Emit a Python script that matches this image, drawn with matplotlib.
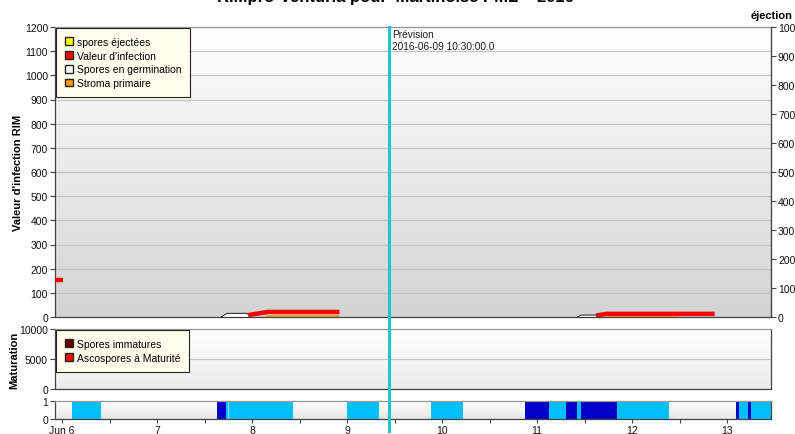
import numpy as np
import matplotlib
matplotlib.use("Agg")
import matplotlib.pyplot as plt
from matplotlib.patches import Patch
import matplotlib.transforms as mtransforms

plt.rcParams['font.family'] = ['Liberation Sans', 'DejaVu Sans']

# ---- data (x = day of June 2016) ----
xlim_days = [5.926, 13.463]
day_ticks = [6, 7, 8, 9, 10, 11, 12, 13]
day_labels = ["Jun 6", "7", "8", "9", "10", "11", "12", "13"]
half_day_ticks = [6.5, 7.5, 8.5, 9.5, 10.5, 11.5, 12.5, 13.5]
forecast_day = 9.4375
forecast_label = "Prévision\n2016-06-09 10:30:00.0"

infection_x1 = [5.926, 6.01]
infection_y1 = [155, 155]
infection_x2 = [7.96, 8.17, 8.92]
infection_y2 = [8, 21, 21]
infection_x3 = [11.62, 11.73, 12.87]
infection_y3 = [6, 13, 13]

germ_x1 = [7.67, 7.73, 7.94, 7.98]
germ_y1 = [2, 17, 17, 6]
germ_x2 = [11.42, 11.46, 11.62, 11.66]
germ_y2 = [2, 10, 10, 4]

stroma_x1 = [8.14, 8.92]
stroma_y1 = [6, 6]
stroma_x2 = [11.73, 12.47]
stroma_y2 = [3, 3]

left_ticks = list(range(0, 1201, 100))
right_ticks = list(range(0, 1001, 100))
mat_ticks = [0, 5000, 10000]

# wetness strip segments: (start, end, kind)  kind: 'L' light blue, 'D' dark blue
wet_start = [6.108, 7.63, 7.73, 9.003, 9.884, 10.877, 11.126, 11.30, 11.42, 11.46, 11.84, 13.095, 13.126, 13.22, 13.25]
wet_end   = [6.41, 7.73, 8.43, 9.34, 10.22, 11.126, 11.30, 11.42, 11.46, 11.84, 12.39, 13.126, 13.22, 13.25, 13.463]
wet_kind  = ['L', 'D', 'L', 'L', 'L', 'D', 'L', 'D', 'L', 'D', 'L', 'D', 'L', 'D', 'L']

# ---- figure ----
fig = plt.figure(figsize=(7.95, 4.35), dpi=100)
W, H = 795, 435
def pos(l, t, r, b):
    return [l / W, 1 - b / H, (r - l) / W, (b - t) / H]

ax = fig.add_axes(pos(55, 28, 771, 318))
ax2 = fig.add_axes(pos(55, 330, 771, 390))
ax3 = fig.add_axes(pos(55, 402, 771, 420))

light = '#00bfff'
dark = '#0000c8'
vcol = '#22c4d0'
spine_col = '#444444'
tick_kw = dict(labelsize=7.5, length=3.5, width=0.8, color='#444444', labelcolor='#111111', pad=1.5)

def gradient(a, top, bottom):
    grad = np.linspace(0, 1, 256).reshape(-1, 1)
    c0 = np.array(matplotlib.colors.to_rgb(top))
    c1 = np.array(matplotlib.colors.to_rgb(bottom))
    img = c0[None, None, :] * (1 - grad[:, :, None]) + c1[None, None, :] * grad[:, :, None]
    a.imshow(img, extent=[0, 1, 0, 1], transform=a.transAxes, aspect='auto', zorder=-10,
             interpolation='bicubic')

for a in (ax, ax2, ax3):
    for s in a.spines.values():
        s.set_color(spine_col)
        s.set_linewidth(0.9)
    a.spines['top'].set_color('#999999')

def style_legend(leg):
    fr = leg.get_frame()
    fr.set_facecolor('#ffffee')
    fr.set_edgecolor('#222222')
    fr.set_linewidth(0.8)
    fr.set_alpha(1)

leg_kw = dict(loc='upper left', bbox_to_anchor=(0.0, 1.0), fontsize=7.5, frameon=True, fancybox=False,
              handlelength=0.75, handleheight=0.75, handletextpad=0.4, labelspacing=0.36,
              borderpad=0.85, borderaxespad=0.1)

# main panel
gradient(ax, '#ffffff', '#d3d3d3')
ax.set_ylim(0, 1200)
ax.set_yticks(left_ticks)
ax.tick_params(axis='y', **tick_kw)
ax.set_xticks([])
ax.grid(axis='y', color='#c4c4c4', linewidth=0.9)
ax.set_axisbelow(True)
ax.set_ylabel("Valeur d'infection RIM", fontsize=8, fontweight='bold')
ax.yaxis.set_label_coords(-0.0447, 0.5)

axr = ax.twinx()
axr.set_ylim(0, 1000)
axr.set_yticks(right_ticks)
axr.tick_params(axis='y', **tick_kw)
for s in axr.spines.values():
    s.set_visible(False)
axr.spines['right'].set_visible(True)
axr.spines['right'].set_color(spine_col)

fig.text(0.997, 1 - 16 / H, "éjection", ha='right', va='center', fontsize=8, fontweight='bold')
fig.text(0.498, 1 + 2 / H, "RIMpro-Venturia pour 'Martinoise PML' - 2016", ha='center', va='center',
         fontsize=12, fontweight='bold')

# curves
for gx, gy in ((germ_x1, germ_y1), (germ_x2, germ_y2)):
    ax.fill_between(gx, 0, gy, color='white', edgecolor='#333333', linewidth=0.8, zorder=3)
for sx, sy in ((stroma_x1, stroma_y1), (stroma_x2, stroma_y2)):
    ax.plot(sx, sy, color='#ff9900', linewidth=2.2, zorder=4, solid_capstyle='butt')
for ix, iy in ((infection_x1, infection_y1), (infection_x2, infection_y2), (infection_x3, infection_y3)):
    ax.plot(ix, iy, color='#ff0000', linewidth=3.2, zorder=5, solid_capstyle='butt')

ax.text(forecast_day + 0.04, 1190, forecast_label, fontsize=7.3, va='top', ha='left', color='#222222',
        linespacing=1.25)

leg1 = ax.legend(handles=[Patch(facecolor='#ffff00', edgecolor='#222222', label='spores éjectées'),
                          Patch(facecolor='#ff0000', edgecolor='#222222', label="Valeur d'infection"),
                          Patch(facecolor='#ffffff', edgecolor='#222222', label='Spores en germination'),
                          Patch(facecolor='#ff9900', edgecolor='#222222', label='Stroma primaire')],
                 **leg_kw)
style_legend(leg1)

# maturation panel
gradient(ax2, '#ffffff', '#ececec')
ax2.set_ylim(0, 10000)
ax2.set_yticks(mat_ticks)
ax2.tick_params(axis='y', **tick_kw)
ax2.set_xticks([])
ax2.grid(axis='y', color='#c8c8c8', linewidth=0.9)
ax2.set_axisbelow(True)
ax2.set_ylabel("Maturation", fontsize=8, fontweight='bold')
ax2.yaxis.set_label_coords(-0.0503, 0.5)
leg2 = ax2.legend(handles=[Patch(facecolor='#6b0000', edgecolor='#222222', label='Spores immatures'),
                           Patch(facecolor='#ff0000', edgecolor='#222222', label='Ascospores à Maturité')],
                  **leg_kw)
style_legend(leg2)

# wetness strip
gradient(ax3, '#ffffff', '#e6e6e6')
ax3.set_ylim(0, 1)
ax3.set_yticks([0, 1])
ax3.tick_params(axis='y', **tick_kw)
for s0, s1, k in zip(wet_start, wet_end, wet_kind):
    ax3.axvspan(s0, s1, color=light if k == 'L' else dark, linewidth=0, zorder=1)
ax3.axvline(7.745, color='#88ddff', linewidth=0.8, zorder=2)
ax3.set_xticks(day_ticks)
ax3.set_xticklabels(day_labels)
ax3.set_xticks(half_day_ticks, minor=True)
ax3.tick_params(axis='x', which='both', **tick_kw)
ax3.tick_params(axis='x', which='both', length=3, pad=1)

for a in (ax, ax2, ax3):
    a.set_xlim(*xlim_days)

# forecast vertical line through all panels
tr = mtransforms.blended_transform_factory(ax.transData, fig.transFigure)
fig.add_artist(plt.Line2D([forecast_day, forecast_day], [1 - 28 / H, 1 - 432 / H], transform=tr,
                          color=vcol, linewidth=2.2, zorder=10))

fig.savefig("out.png", dpi=100)
